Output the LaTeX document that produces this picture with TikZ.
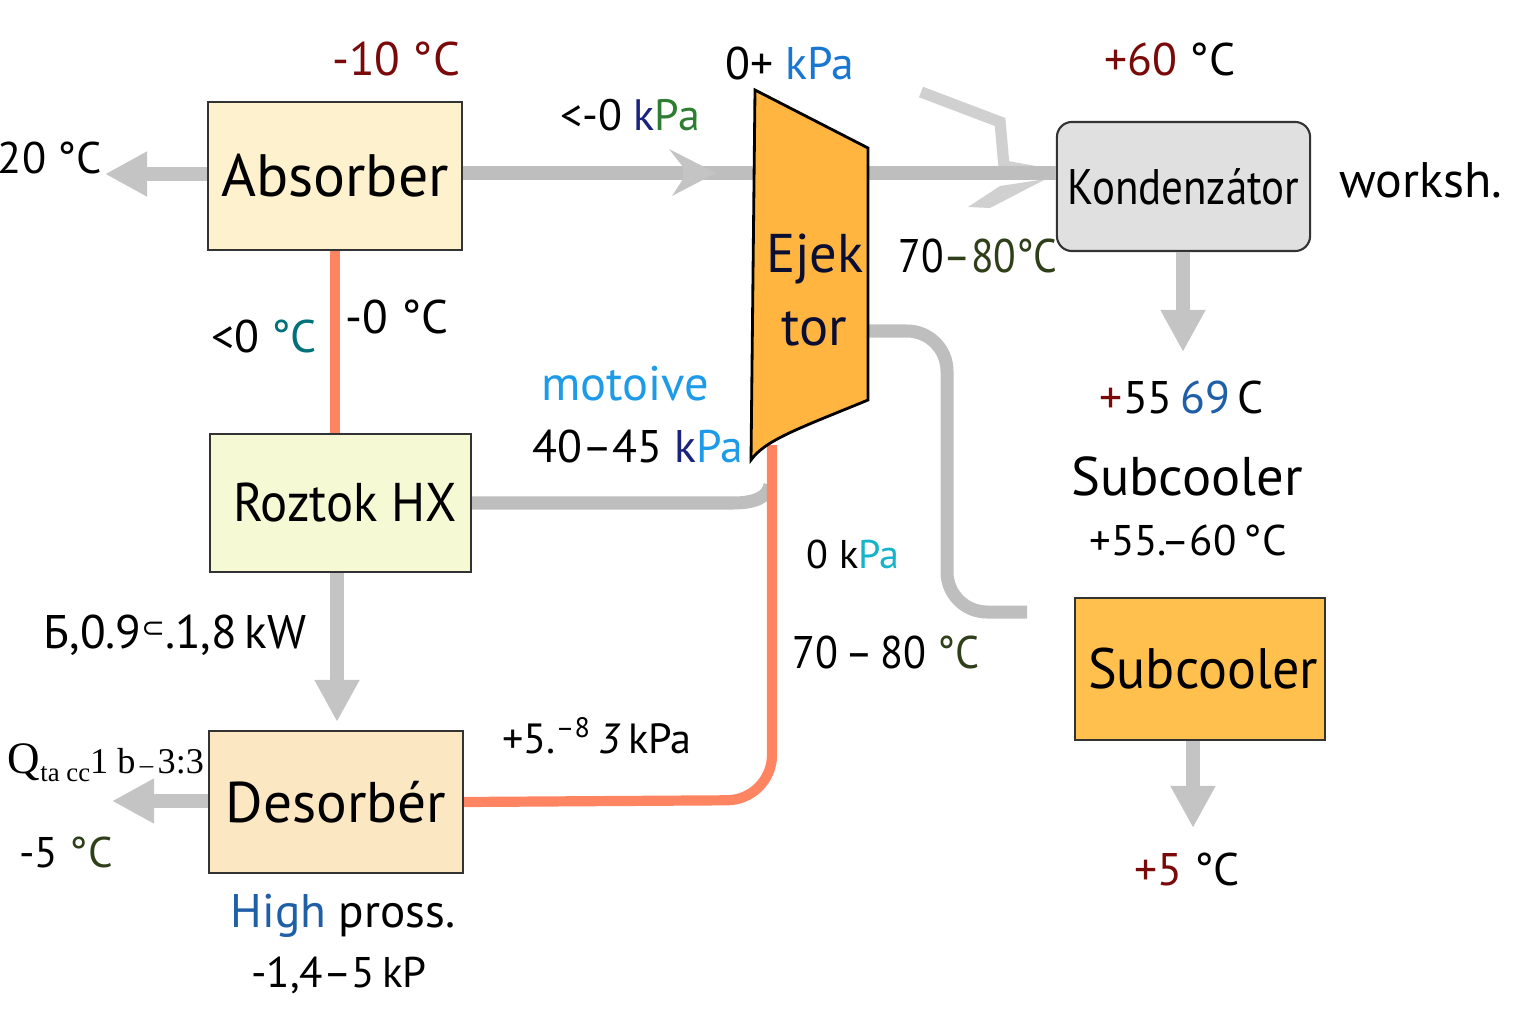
\documentclass[tikz,border=0pt]{standalone}
\usepackage{fontspec}
\setmainfont{PT Sans}
\newfontfamily\lser{Liberation Serif}
\newfontfamily\dejavu{DejaVu Sans}
\usetikzlibrary{arrows.meta}
\newcommand\fsz[1]{\fontsize{#1}{#1}\selectfont}
\definecolor{absfill}{HTML}{FEF1CD}
\definecolor{rhxfill}{HTML}{F5FAD5}
\definecolor{desfill}{HTML}{FCE7C3}
\definecolor{subfill}{HTML}{FFC04E}
\definecolor{ejfill}{HTML}{FFB540}
\definecolor{kondfill}{HTML}{E0E0E0}
\definecolor{lgray}{HTML}{BEBEBE}
\definecolor{agray}{HTML}{C4C4C4}
\definecolor{cgray}{HTML}{D0D0D0}
\definecolor{opipe}{HTML}{FF8461}
\definecolor{dred}{HTML}{7A0A0A}
\definecolor{navy}{HTML}{1A237E}
\definecolor{dgreen}{HTML}{2E7D32}
\definecolor{kblue}{HTML}{1976D2}
\definecolor{lblue}{HTML}{1E9BE8}
\definecolor{cyanc}{HTML}{17B3C8}
\definecolor{tealc}{HTML}{00707A}
\definecolor{bluec}{HTML}{1F5FA8}
\definecolor{olive}{HTML}{2F3F1A}
\begin{document}
\begin{tikzpicture}[x=0.01cm,y=-0.01cm,
  box/.style={draw=black!80, line width=0.6pt, inner sep=0pt},
  gline/.style={draw=lgray, line width=3.7pt},
  garrow/.style={draw=agray, line width=4pt, -{Triangle[length=12pt,width=12pt]}},
  opline/.style={draw=opipe, line width=2.9pt},
  lbl/.style={anchor=base, inner sep=0pt}]
\useasboundingbox (0,0) rectangle (1536,1024);

% boxes
\node[box, fill=absfill, minimum width=2.53cm, minimum height=1.48cm, font=\fsz{17pt}] (abs) at (335,176) {Absorber};
\node[box, fill=rhxfill, minimum width=2.61cm, minimum height=1.38cm, font=\fsz{15.5pt}] (rhx) at (340.5,503) {\hspace*{0.09cm}\scalebox{0.93}[1]{Roztok HX}};
\node[box, fill=desfill, minimum width=2.54cm, minimum height=1.42cm, font=\fsz{16.3pt}] (des) at (336,802) {Desorbér};
\node[box, fill=subfill, minimum width=2.50cm, minimum height=1.42cm, font=\fsz{16.2pt}] (sub) at (1200,669) {\hspace*{0.06cm}\scalebox{0.95}[1]{Subcooler}};
\node[box, fill=kondfill, rounded corners=0.15cm, minimum width=2.53cm, minimum height=1.29cm, font=\fsz{14.2pt}] (kond) at (1183.5,186.5) {\scalebox{0.86}[1]{Kondenzátor}};

% ejector coordinates
\coordinate (ejL) at (756,173);
\coordinate (ejR) at (866,173);
\coordinate (ejR2) at (866,331);
\coordinate (ejB) at (770,485);
\coordinate (ejOut) at (772,445);
\coordinate (pend) at (1027,612);

% decorative light arrow pieces near condenser
\draw[cgray, line width=3.2pt] (921,92) -- (1000,122) -- (1004,166) -- (1043,173);
\fill[cgray] (1000,186) -- (968,207) -- (990,208) -- (1046,179) -- cycle;

% connectors
\draw[gline] (ejL -| abs.east) -- (ejL);
\fill[agray] (669,149) -- (716,173) -- (672,196) -- (683,179) -- (683,167) -- cycle;
\draw[gline] (ejR) -- (ejR -| kond.west);
\draw[gline] (rhx.east) -- (733,503) .. controls (755,503) and (768,497) .. (ejB);
\draw[gline, rounded corners=0.4cm] (ejR2) -- (947,331) -- (947,612) -- (pend);
\draw[opline, rounded corners=0.45cm] (ejOut) -- (772,800) -- (des.east);
\draw[opline] (abs.south) -- (abs.south |- rhx.north);

\coordinate (atip) at (105,174);
\coordinate (dltip) at (112,801);
\coordinate (dtip) at (337,722);
\coordinate (ktip) at (1183,352);
\coordinate (stip) at (1193,828);
\draw[garrow] (atip -| abs.west) -- (atip);
\draw[garrow] (dltip -| des.west) -- (dltip);
\draw[garrow] (dtip |- rhx.south) -- (dtip);
\draw[garrow] (ktip |- kond.south) -- (ktip);
\draw[garrow] (stip |- sub.south) -- (stip);

% ejector
\draw[fill=ejfill, line width=0.8pt] (755,90) -- (868,148) -- (868,400) .. controls (800,428) and (765,440) .. (751,460) -- cycle;
\node[lbl, font=\fsz{15.5pt}, text=navy!40!black] (ejt1) at (815,272) {Ejek};
\node[lbl, font=\fsz{15.5pt}, text=navy!40!black] (ejt2) at (814,345) {tor};

% labels
\node[lbl, font=\fsz{13.4pt}] (t1) at (396,75) {\textcolor{dred}{-10 °C}};
\node[lbl, font=\fsz{12.6pt}] (t2) at (50,173) {20 °C};
\node[lbl, font=\fsz{12.5pt}] (t3) at (630,130) {<-0 \textcolor{navy}{k}\textcolor{dgreen}{Pa}};
\node[lbl, font=\fsz{13pt}] (t4) at (790,80) {0+ \textcolor{kblue}{kPa}};
\node[lbl, font=\fsz{13.4pt}] (t5) at (978,272) {\scalebox{0.88}[1]{70\textcolor{olive}{–80°C}}};
\node[lbl, font=\fsz{13pt}] (t6) at (1170,75) {\textcolor{dred}{+60} °C};
\node[lbl, font=\fsz{14.2pt}] (t7) at (1421,197) {worksh.};
\node[lbl, font=\fsz{13pt}] (t8) at (264,352) {<0 \textcolor{tealc}{°C}};
\node[lbl, font=\fsz{13.4pt}] (t9) at (397,333) {-0 °C};
\node[lbl, font=\fsz{13.8pt}, text=lblue] (t10) at (625,400) {motoive};
\node[lbl, font=\fsz{13pt}] (t11) at (638,462) {40–45 \textcolor{navy}{k}\textcolor{lblue}{Pa}};
\node[lbl, font=\fsz{11.4pt}] (t12) at (853,568) {0 k\textcolor{cyanc}{Pa}};
\node[lbl, font=\fsz{13pt}] (t13) at (886,668) {\scalebox{0.92}[1]{70\,–\,80 \textcolor{olive}{°C}}};
\node[lbl, font=\fsz{13pt}] (t14) at (1182,413) {\textcolor{dred}{+}55\,\textcolor{bluec}{69}\,C};
\node[lbl, font=\fsz{15.5pt}] (t15) at (1187,495) {Subcooler};
\node[lbl, font=\fsz{12.2pt}] (t16) at (1188,555) {+55.–60\,°C};
\node[lbl, font=\fsz{13pt}] (t17) at (1187,885) {\textcolor{dred}{+5} °C};
\node[lbl, font=\fsz{13.4pt}] (t18) at (175,648) {Б,0.9\raisebox{0.45ex}{\dejavu\fsz{8pt}⊂}.1,8\,kW};
\node[lbl, font=\lser\fsz{10.3pt}] (t19) at (106,773) {{\fsz{12.8pt}Q}\raisebox{-0.5ex}{\fsz{7.6pt}ta cc}1 b{\fsz{7.6pt}\,–\,}3:3};
\node[lbl, font=\fsz{12.2pt}] (t20) at (66,867) {-5 \textcolor{olive}{°C}};
\node[lbl, font=\fsz{13.4pt}] (t21) at (343,927) {\textcolor{bluec}{High} pross.};
\node[lbl, font=\fsz{12.2pt}] (t22) at (339,987) {-1,4–5\,kP};
\node[lbl, font=\fsz{12pt}] (t23) at (597,753) {+5.\textsuperscript{–8}\,\textit{3}\,kPa};
\end{tikzpicture}
\end{document}
